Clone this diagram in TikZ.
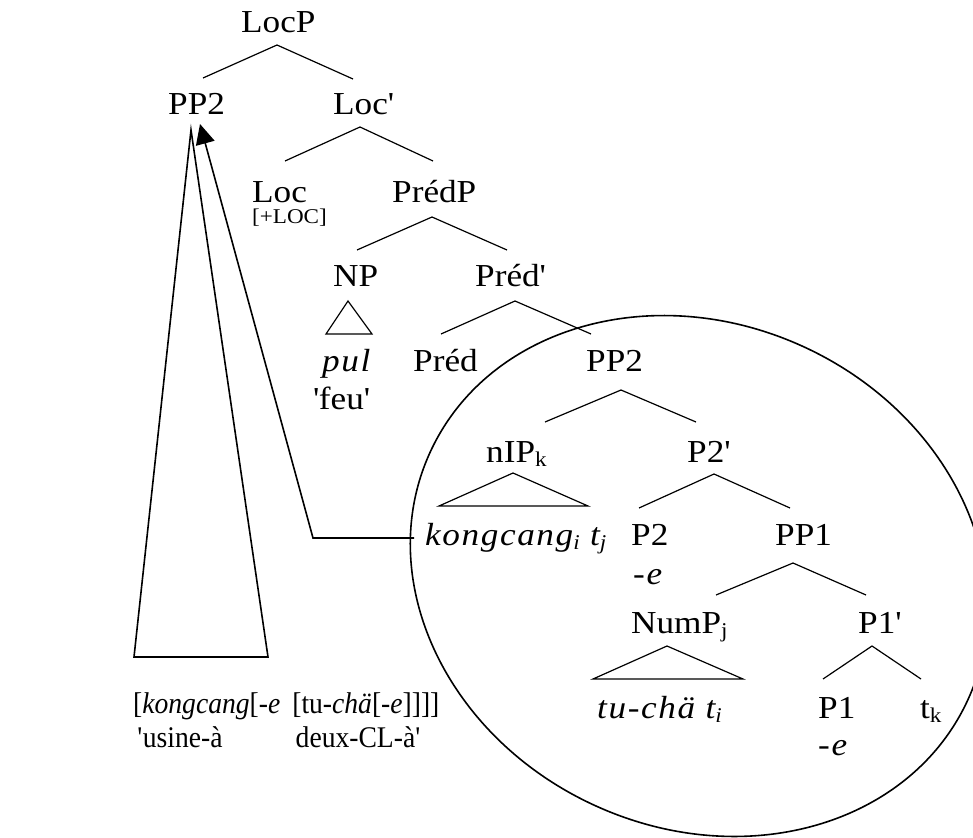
\documentclass[tikz,border=0pt]{standalone}
\usepackage{fontspec}
\setmainfont{Liberation Serif}[FakeStretch=1.1]
\newfontfamily\itl{Liberation Serif}[FakeStretch=1.1,LetterSpace=5]
\newfontfamily\botrm{Liberation Serif}[FakeStretch=0.92]
\usetikzlibrary{arrows.meta,calc}
\newcommand\sbs[1]{\raisebox{-0.3ex}{\fontsize{21}{21}\selectfont #1}}
\newcommand\itx[1]{{\itl\itshape #1}}
\newcommand\q{\textquotesingle}
\begin{document}
\begin{tikzpicture}[x=1pt,y=-1pt,
  lbl/.style={inner sep=0pt, anchor=base west, font=\fontsize{32}{38}\selectfont},
  small/.style={inner sep=0pt, anchor=base west, font=\fontsize{21}{24}\selectfont},
  bottxt/.style={inner sep=0pt, anchor=base west, font=\botrm\fontsize{30}{34}\selectfont},
  branch/.style={line width=1.2pt},
  heavy/.style={line width=1.6pt}]
\useasboundingbox (0,0) rectangle (973,837);
\begin{scope}
\clip (0,0) rectangle (973,837);
\draw[heavy, rotate around={-25:(699,576)}] (699,576) ellipse [x radius=296, y radius=252];
\end{scope}
% labels
\node[lbl] (locp) at (241,33) {LocP};
\node[lbl] (pp2a) at (168,115) {PP2};
\node[lbl] (locb) at (333,115) {Loc\q};
\node[lbl] (loc) at (252,202) {Loc};
\node[small] (locf) at (252,223) {[+LOC]};
\node[lbl] (predp) at (392,202) {PrédP};
\node[lbl] (np) at (333,286) {NP};
\node[lbl] (predb) at (475,286) {Préd\q};
\node[lbl] (pul) at (322,371) {\itx{pul}};
\node[lbl] (feu) at (313,409) {\q feu\q};
\node[lbl] (pred) at (413,371) {Préd};
\node[lbl] (pp2b) at (586,371) {PP2};
\node[lbl] (nip) at (486,462) {nIP\sbs{k}};
\node[lbl] (p2b) at (687,462) {P2\q};
\node[lbl] (kong) at (425,545) {\itx{kongcang\sbs{i} t\sbs{j}}};
\node[lbl] (p2) at (631,545) {P2};
\node[lbl] (pp1) at (775,545) {PP1};
\node[lbl] (e2) at (633,584) {\itx{-e}};
\node[lbl] (nump) at (631,633) {NumP\sbs{j}};
\node[lbl] (p1b) at (858,633) {P1\q};
\node[lbl] (tucha) at (597,718) {\itx{tu-chä t\sbs{i}}};
\node[lbl] (p1) at (818,718) {P1};
\node[lbl] (tk) at (920,718) {t\sbs{k}};
\node[lbl] (e1) at (818,755) {\itx{-e}};
\node[bottxt] (brk) at (133,713) {[\textit{kongcang}[-\textit{e}\hspace{0.4em}[tu-\textit{chä}[-\textit{e}]]]]};
\node[bottxt] (gl1) at ($(brk.base west)!0.014!(brk.base east)+(0,34)$) {\q usine-à};
\node[bottxt] (gl2) at ($(brk.base west)!0.53!(brk.base east)+(0,34)$) {deux-CL-à\q};
% branch points
\coordinate (a1) at (277,45);  \coordinate (a1l) at (203,78);  \coordinate (a1r) at (353,79);
\coordinate (a2) at (360,127); \coordinate (a2l) at (285,161); \coordinate (a2r) at (433,161);
\coordinate (a3) at (432,217); \coordinate (a3l) at (357,250); \coordinate (a3r) at (507,250);
\coordinate (a4) at (515,301); \coordinate (a4l) at (441,334); \coordinate (a4r) at (591,334);
\coordinate (t1) at (348,301); \coordinate (t1l) at (326,334); \coordinate (t1r) at (372,334);
\coordinate (a5) at (621,390); \coordinate (a5l) at (545,422); \coordinate (a5r) at (696,422);
\coordinate (t2) at (513,473); \coordinate (t2l) at (439,506); \coordinate (t2r) at (588,506);
\coordinate (a6) at (714,474); \coordinate (a6l) at (639,508); \coordinate (a6r) at (790,508);
\coordinate (a7) at (793,563); \coordinate (a7l) at (716,595); \coordinate (a7r) at (866,595);
\coordinate (t3) at (667,646); \coordinate (t3l) at (593,679); \coordinate (t3r) at (743,679);
\coordinate (a8) at (872,646); \coordinate (a8l) at (823,679); \coordinate (a8r) at (921,679);
\draw[branch] (a1l) -- (a1) -- (a1r);
\draw[branch] (a2l) -- (a2) -- (a2r);
\draw[branch] (a3l) -- (a3) -- (a3r);
\draw[branch] (a4l) -- (a4) -- (a4r);
\draw[branch] (t1l) -- (t1) -- (t1r) -- cycle;
\draw[branch] (a5l) -- (a5) -- (a5r);
\draw[branch] (t2l) -- (t2) -- (t2r) -- cycle;
\draw[branch] (a6l) -- (a6) -- (a6r);
\draw[branch] (a7l) -- (a7) -- (a7r);
\draw[branch] (t3l) -- (t3) -- (t3r) -- cycle;
\draw[branch] (a8l) -- (a8) -- (a8r);
% big triangle and movement arrow
\coordinate (bt) at (191,130); \coordinate (btl) at (134,657); \coordinate (btr) at (268,657);
\draw[heavy] (btl) -- (bt) -- (btr) -- cycle;
\coordinate (ae) at (414,538); \coordinate (ak) at (313,538); \coordinate (at) at (200,124);
\draw[heavy, -{Triangle[length=20pt,width=19pt]}] (ae) -- (ak) -- (at);
\end{tikzpicture}
\end{document}
